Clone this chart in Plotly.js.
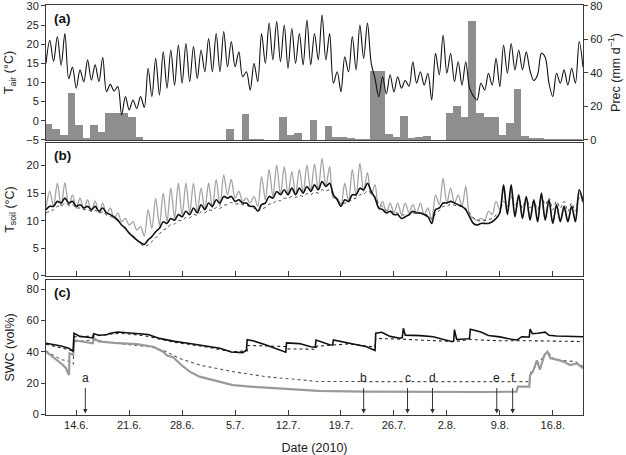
<!DOCTYPE html>
<html>
<head>
<meta charset="utf-8">
<script src="https://cdn.plot.ly/plotly-3.0.1.min.js"></script>
<style>html,body{margin:0;padding:0;background:#fff;}#chart{width:626px;height:455px;}</style>
</head>
<body>
<div id="chart"></div>
<script>
// ---------- DATA ----------
// Start of series: 10 June 2010 00:00; temperature series sampled every 12 h
const startDate = '2010-06-10';
const endDate = '2010-08-20';
const sampleStepDays = 0.5;

// Air temperature (°C), 12-hourly
const tAir = [
 15,21, 15.5,22, 14.5,22.8, 11,14, 8.5,13.3, 10.2,15.9, 10.6,14.6, 10.2,16.6, 7.6,9.5, 7.8,8.9,
 1.5,6.3, 2.8,5.4, 3.2,6.3, 3.5,13.7, 6.3,16.3, 6.7,18, 8.5,18.5, 9.3,19.8, 9.8,20.2, 10.2,19.4,
 11,18.5, 12.8,21.5, 12.8,22.8, 12.8,23.3, 14.1,20.7, 14.1,18, 11.5,12.8, 8,15, 10.2,22.8, 15,25.5,
 15.9,25.9, 15.4,25, 13.7,24.1, 15,22.8, 14.6,26.3, 14.6,22.8, 15.9,27.6, 15.9,22.8, 9.8,12.8, 7.6,16.7,
 12.8,22, 13.3,25, 16.3,25.5, 15,11, 6.3,11.5, 7,12, 7.5,11.5, 8.5,10.5, 9,15.4, 9.8,12.8,
 9.3,12.4, 5.4,17.6, 12,22.4, 12.4,17.6, 10.2,15.4, 9.3,15.4, 8.5,6.5, 5.4,9.8, 8,12.4, 9.3,16.3,
 8.9,19.8, 12.4,20.2, 13.3,18.5, 13.3,18, 13,10.5, 12,17.6, 16.6,9.8, 6.3,12.4, 9.8,13.3, 9.3,13.7,
 9.8,20.7, 14
];

// Daily precipitation (mm d-1), one bar per day starting 10 June
const precip = [
 9.2, 6.4, 3.1, 27.7, 9.0, 1.1, 8.6, 4.5, 15.8, 15.8,
 15.8, 13.4, 1.9, 0, 0, 0, 0, 0, 0, 0,
 0, 0, 0, 0, 6.3, 0, 15.4, 0.8, 0.5, 0,
 0, 13.4, 2.9, 3.9, 0.2, 11.8, 0, 8.2, 1.7, 1.5,
 0.9, 0.5, 0.3, 41, 41, 3.5, 1.5, 14, 1.3, 1.5,
 2.3, 0.2, 0.2, 15.8, 20.2, 13.4, 70.9, 16.2, 13.4, 13.4,
 2.9, 9.8, 30.1, 2.3, 1.3, 1.3, 0.3, 0.3, 0.3, 0.3,
 0.3
];

// Soil temperature (°C), 12-hourly: black solid, grey solid, dotted
const tSoilBlack = [
 12.0,12.6, 12.6,13.5, 13.2,14.1, 13.2,13.5, 12.6,12.9, 12.3,12.6, 12.0,12.6, 11.7,12.3, 11.4,11.1, 10.7,10.1,
 9.2,8.6, 7.7,7.1, 6.5,6.0, 5.7,6.5, 7.1,8.0, 8.6,9.8, 9.5,10.4, 10.1,11.1, 10.7,11.7, 11.1,12.3,
 11.4,12.9, 12.0,13.2, 12.6,13.8, 13.2,14.4, 14.1,14.4, 13.5,13.8, 13.2,13.2, 12.6,12.6, 11.7,12.9, 13.2,14.4,
 14.1,15.3, 14.7,15.6, 14.7,15.9, 14.7,15.9, 15.0,16.2, 15.3,16.5, 15.6,17.1, 16.2,16.8, 14.7,13.8, 12.6,13.8,
 13.5,14.7, 14.7,15.9, 15.6,16.8, 15.3,14.1, 12.3,12.0, 11.4,11.7, 11.1,11.1, 10.4,10.7, 11.1,11.7, 11.4,11.4,
 11.1,10.7, 9.5,12.0, 12.3,13.2, 13.2,13.5, 13.2,12.9, 12.6,12.0, 10.7,9.5, 9.2,9.5, 9.5,9.5, 9.8,10.4,
 11.4,16.5, 11.1,16.5, 10.7,14.7, 10.4,14.4, 10.1,13.8, 9.8,15.0, 10.1,13.8, 9.5,12.9, 9.8,12.6, 9.8,12.6,
 9.8,15.6, 13.5
];
const tSoilGrey = [
 12.3,15.3, 12.6,16.8, 12.6,16.9, 12.6,14.7, 12.3,14.1, 12.0,13.8, 11.7,13.6, 11.4,13.2, 11.1,12.3, 10.4,11.4,
 9.8,10.4, 9.2,9.8, 8.3,8.9, 7.2,12.0, 8.6,14.1, 9.2,15.0, 9.8,15.9, 10.4,16.8, 11.0,16.8, 11.4,16.8,
 11.7,15.9, 12.0,16.8, 12.3,17.5, 12.6,18.3, 14.7,17.5, 14.1,15.3, 13.5,14.1, 13.2,14.4, 12.6,18.0, 13.8,19.3,
 14.4,20.1, 14.7,19.8, 14.7,18.9, 14.7,19.3, 15.0,20.1, 15.3,20.3, 15.6,21.3, 16.2,19.8, 14.1,14.1, 12.9,16.8,
 13.5,19.3, 14.4,20.4, 15.3,18.7, 14.7,16.5, 12.0,13.5, 11.4,13.2, 11.4,13.2, 11.1,13.2, 11.4,12.9, 11.4,13.2,
 11.1,12.3, 10.1,14.7, 12.9,17.7, 13.2,15.9, 13.2,14.7, 12.6,16.2, 11.1,10.4, 10.1,10.4, 10.1,11.7, 11.1,13.5,
 12.0,15.6, 11.4,15.9, 11.1,14.4, 10.7,14.1, 10.4,13.5, 10.1,14.4, 10.4,13.5, 9.8,12.6, 10.1,12.3, 10.1,12.6,
 10.1,15.0, 13.2
];
const tSoilDotted = [
 11.4,11.7, 12.0,12.6, 12.6,13.2, 12.9,12.9, 12.3,12.3, 12.0,12.0, 11.7,11.9, 11.4,11.6, 11.0,10.8, 10.4,10.0,
 9.3,8.7, 7.9,7.3, 6.5,5.8, 5.3,5.6, 6.2,6.9, 7.6,8.3, 8.6,9.3, 9.4,10.0, 10.0,10.6, 10.5,11.1,
 11.0,11.6, 11.4,12.0, 11.8,12.4, 12.2,12.8, 12.9,13.3, 13.0,13.1, 12.9,12.8, 12.5,12.3, 11.8,12.1, 12.4,13.0,
 13.1,13.7, 13.6,14.1, 14.0,14.4, 14.2,14.6, 14.4,14.9, 14.7,15.2, 15.0,15.6, 15.4,15.6, 14.8,13.9, 13.0,13.2,
 13.3,13.9, 14.1,14.7, 14.8,15.4, 15.0,14.4, 13.1,12.5, 11.9,11.8, 11.5,11.4, 11.0,11.1, 11.0,11.4, 11.3,11.4,
 11.2,11.0, 10.4,11.2, 11.8,12.6, 12.6,13.0, 12.8,12.7, 12.5,12.2, 11.4,10.6, 10.0,10.0, 10.0,10.2, 10.4,11.0,
 11.6,13.5, 12.6,14.4, 12.6,13.8, 12.3,14.1, 12.3,13.5, 12.0,14.4, 12.9,14.1, 12.0,13.5, 12.3,13.5, 11.7,13.2,
 11.7,14.1, 13.5
];

// Soil water content (vol%): day offsets from 10 June and values
const swcBlackDay = [0,1,2,3,3.6,3.7,4.5,5.5,6.2,6.3,7,8,8.5,9.5,10.5,12,13.5,15,17,19,21,23,24.5,26,26.5,26.6,27.5,29,31.7,31.8,33.5,35,35.6,35.7,37.5,37.9,38,40.2,42.4,43.5,43.6,44.4,45.5,46.8,47.1,47.25,47.5,49.5,51.2,53.7,53.9,54.0,54.3,55.8,56.0,56.1,57,57.5,58.5,60,61.5,62.3,62.9,63.9,64.0,64.3,65,66,66.5,67.5,71];
const swcBlack    = [45.4,44.6,43.6,42.3,40.3,51.8,49.8,49.2,48.8,51.5,50.5,50.8,51.8,52.6,52.3,51.8,51,48.5,46.6,45.2,43.8,42.2,39.8,39.4,41,47.6,46.8,44.5,39.7,45.6,45.2,43.2,43,47.5,44.4,44.3,47.5,45.4,43.2,40.8,51.8,52.4,49.8,48.6,49,55,50.6,50.3,49.6,46.4,46.8,54,47.8,48.3,48.6,54.3,53,52.6,50.4,49.5,48,47.5,49.6,49.4,54.5,51.5,51.8,52.5,50.5,50,49.6];
const swcBlackDotDay = [0,3.6,3.7,6.3,9.7,13,17,21,24.5,26.6,26.7,31.7,31.8,35.7,35.8,38,40,43.5,43.6,47,50,54,56.1,60,64,71];
const swcBlackDot    = [44.8,40.5,49.5,50,51.8,50.3,46,43.2,40,40.5,44,43.3,41.8,41.6,43.5,44.5,45,43,48.5,48,47.5,46.5,47.8,47,47,46.5];
const swcGreyDay = [0,1,2,2.6,3.05,3.1,3.6,3.7,5,6.2,6.3,7,9,12,14.2,15.5,16,16.8,17.9,19,20.3,22.5,24.7,27.4,31.4,36,42,50,56,58,62.2,62.4,63.9,64.0,64.4,64.9,65.3,65.9,66.3,66.7,67.5,68.4,69.3,70.2,71];
const swcGrey    = [40,36.5,32.5,29.8,25.2,39,38,47.3,46.2,45.4,48.6,46.5,45.6,44.8,43.2,40,37.5,36.5,31.5,27.3,24.1,21.3,18.7,17.6,16.2,15,14.5,14.2,14.1,14.3,14.5,17.7,17.7,25,27.5,34.5,28.5,38,40,35.8,35,33.7,31.5,32.5,29.4];
const swcGreyDotDay = [0,1,2,3,3.6,3.7,6.3,10,14,15.9,17.6,20.3,24.7,29,36,45,55,64,64.1,65,66,66.3,67,68,69,70,71];
const swcGreyDot    = [40.5,37.5,35,34,32,46.5,47.5,45,43,40,35.8,31.5,27.3,24.1,21,20.9,20.9,20.9,27,32,38,40,36,34.5,34,33.7,30.5];

// Sampling events (arrows in panel c)
const eventLabels = ['a','b','c','d','e','f'];
const eventDays = [5.2, 42.0, 47.8, 51.1, 59.6, 61.7];

// Date tick labels
const tickDates = ['2010-06-14','2010-06-21','2010-06-28','2010-07-05','2010-07-12','2010-07-19','2010-07-26','2010-08-02','2010-08-09','2010-08-16'];
const tickLabels = ['14.6.','21.6.','28.6.','5.7.','12.7.','19.7.','26.7.','2.8.','9.8.','16.8.'];

// ---------- BUILD ----------
const DAY = 86400000;
const t0 = Date.UTC(2010, 5, 10);
const toX = d => t0 + d * DAY;
const sampleX = arr => arr.map((_, i) => toX(i * sampleStepDays));
const barOffset = 0.35;

const FONT = 'Liberation Sans, Arial, Helvetica, sans-serif';
const AX = '#3a3a3a';

const traces = [
  { type: 'bar', x: precip.map((_, i) => toX(i + barOffset)), y: precip, width: DAY,
    marker: { color: '#8e8e8e', line: { width: 0 } }, xaxis: 'x', yaxis: 'y', name: 'Prec' },
  { type: 'scatter', mode: 'lines', x: sampleX(tAir), y: tAir, xaxis: 'x', yaxis: 'y2',
    line: { color: '#111', width: 1.1, shape: 'spline', smoothing: 0.9 }, name: 'Tair' },

  { type: 'scatter', mode: 'lines', x: sampleX(tSoilGrey), y: tSoilGrey, xaxis: 'x2', yaxis: 'y3',
    line: { color: '#a3a3a3', width: 1.3, shape: 'spline', smoothing: 0.9 }, name: 'Tsoil grey' },
  { type: 'scatter', mode: 'lines', x: sampleX(tSoilDotted), y: tSoilDotted, xaxis: 'x2', yaxis: 'y3',
    line: { color: '#444', width: 1, dash: 'dot', shape: 'spline', smoothing: 0.9 }, name: 'Tsoil dotted' },
  { type: 'scatter', mode: 'lines', x: sampleX(tSoilBlack), y: tSoilBlack, xaxis: 'x2', yaxis: 'y3',
    line: { color: '#111', width: 1.6, shape: 'spline', smoothing: 0.9 }, name: 'Tsoil black' },

  { type: 'scatter', mode: 'lines', x: swcGreyDotDay.map(toX), y: swcGreyDot, xaxis: 'x3', yaxis: 'y4',
    line: { color: '#555', width: 1.1, dash: 'dot' }, name: 'SWC grey dotted' },
  { type: 'scatter', mode: 'lines', x: swcGreyDay.map(toX), y: swcGrey, xaxis: 'x3', yaxis: 'y4',
    line: { color: '#9a9a9a', width: 2.2 }, name: 'SWC grey' },
  { type: 'scatter', mode: 'lines', x: swcBlackDotDay.map(toX), y: swcBlackDot, xaxis: 'x3', yaxis: 'y4',
    line: { color: '#222', width: 1.1, dash: 'dot' }, name: 'SWC black dotted' },
  { type: 'scatter', mode: 'lines', x: swcBlackDay.map(toX), y: swcBlack, xaxis: 'x3', yaxis: 'y4',
    line: { color: '#111', width: 1.6 }, name: 'SWC black' }
];

const xBase = {
  type: 'date', range: [startDate, endDate], showgrid: false, zeroline: false,
  showline: true, mirror: true, linecolor: AX, linewidth: 1,
  tickvals: tickDates, ticktext: tickLabels, tickcolor: AX
};
const yBase = {
  showgrid: false, zeroline: false, showline: true, mirror: true, linecolor: AX, linewidth: 1,
  ticks: 'outside', ticklen: 4, tickcolor: AX, tickfont: { size: 11, color: '#222' },
  ticklabeloverflow: 'allow'
};
const titleFont = { size: 12.5, color: '#222', family: FONT };

const annotations = [
  { text: '<b>(a)</b>', xref: 'paper', yref: 'paper', x: 0.012, y: 0.966, xanchor: 'left', yanchor: 'middle', showarrow: false, font: { size: 13.5, color: '#111' } },
  { text: '<b>(b)</b>', xref: 'paper', yref: 'paper', x: 0.012, y: 0.634, xanchor: 'left', yanchor: 'middle', showarrow: false, font: { size: 13.5, color: '#111' } },
  { text: '<b>(c)</b>', xref: 'paper', yref: 'paper', x: 0.012, y: 0.298, xanchor: 'left', yanchor: 'middle', showarrow: false, font: { size: 13.5, color: '#111' } }
];
eventLabels.forEach((lab, i) => {
  annotations.push({
    text: lab, x: toX(eventDays[i]), y: 0.6, xref: 'x3', yref: 'y4',
    ax: toX(eventDays[i]), ay: 23.5, axref: 'x3', ayref: 'y4',
    showarrow: true, arrowhead: 2, arrowsize: 0.9, arrowwidth: 1, arrowcolor: '#333',
    startstandoff: 2, font: { size: 12, color: '#222' }
  });
});

const layout = {
  width: 626, height: 455,
  margin: { l: 46, r: 43, t: 5, b: 40 },
  paper_bgcolor: '#fff', plot_bgcolor: '#fff',
  showlegend: false, bargap: 0,
  font: { family: FONT, size: 11, color: '#222' },
  xaxis: Object.assign({}, xBase, { anchor: 'y', ticks: '', showticklabels: false }),
  xaxis2: Object.assign({}, xBase, { anchor: 'y3', ticks: 'inside', ticklen: 5, showticklabels: false }),
  xaxis3: Object.assign({}, xBase, { anchor: 'y4', ticks: 'inside', ticklen: 5, showticklabels: true,
    tickfont: { size: 11, color: '#222' }, title: { text: 'Date (2010)', font: titleFont, standoff: 14 } }),
  yaxis: Object.assign({}, yBase, { domain: [0.6707, 1], range: [-0.1, 80.5], side: 'right', anchor: 'x',
    tickvals: [0, 20, 40, 60, 80], mirror: false,
    title: { text: 'Prec (mm d<sup>−1</sup>)', font: titleFont, standoff: 9 } }),
  yaxis2: Object.assign({}, yBase, { overlaying: 'y', side: 'left', anchor: 'x', range: [-5.05, 30.25],
    tickvals: [-5, 0, 5, 10, 15, 20, 25, 30], mirror: false,
    title: { text: 'T<sub>air</sub> (°C)', font: titleFont, standoff: 9 } }),
  yaxis3: Object.assign({}, yBase, { domain: [0.339, 0.6634], anchor: 'x2', range: [-0.05, 24.1],
    tickvals: [0, 5, 10, 15, 20],
    title: { text: 'T<sub>soil</sub> (°C)', font: titleFont, standoff: 9 } }),
  yaxis4: Object.assign({}, yBase, { domain: [0, 0.3293], anchor: 'x3', range: [-0.4, 85.8],
    tickvals: [0, 20, 40, 60, 80],
    title: { text: 'SWC (vol%)', font: titleFont, standoff: 9 } }),
  annotations: annotations
};

Plotly.newPlot('chart', traces, layout, { displayModeBar: false, staticPlot: true });
</script>
</body>
</html>
